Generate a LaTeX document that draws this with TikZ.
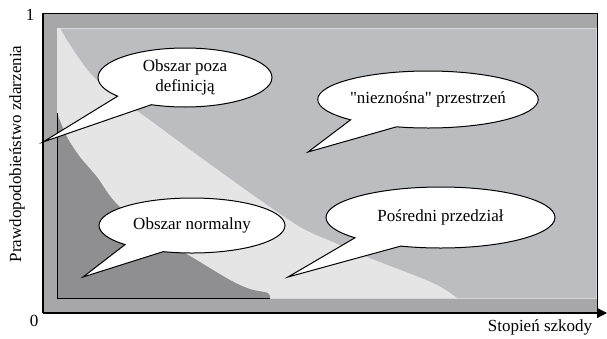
\documentclass[tikz,border=0pt]{standalone}
\usepackage{fontspec}
\setmainfont{Liberation Serif}
\newfontfamily\plainfont{Liberation Serif}
\usetikzlibrary{arrows.meta,shapes.callouts}

\definecolor{framegray}{RGB}{167,167,170}
\definecolor{innergray}{RGB}{188,189,193}
\definecolor{innerline}{RGB}{214,214,216}
\definecolor{lightband}{RGB}{229,229,229}
\definecolor{darkarea}{RGB}{143,143,146}

\begin{document}
\begin{tikzpicture}[
    x=1pt, y=-1pt,
    font=\fontsize{17}{20}\selectfont,
    bubble/.style={ellipse callout, draw=black, line width=1pt, fill=white, inner sep=0pt, align=center, callout pointer arc=28},
    axis/.style={line width=1.2pt, draw=black},
    border/.style={line width=1pt, draw=black},
    axislabel/.style={inner sep=0pt},
]
\useasboundingbox (0,0) rectangle (607,338);

% === BACKGROUND AREAS ===
\filldraw[fill=framegray, border] (43,313) -- (43,13) -- (597,13) -- (597,313);
\filldraw[fill=innergray, draw=innerline, line width=0.8pt] (57,28) rectangle (596.5,298);

% light band
\fill[lightband] (57,28) -- plot[smooth] coordinates {(60,28) (70,45) (90,73) (115,96) (140,113) (170,135) (200,157) (250,193) (300,227) (335,243) (367,257) (433,283) (457,298)} -- (57,298) -- cycle;

% normal area
\fill[darkarea] plot[smooth] coordinates {(57,113) (67,137) (80,157) (97,177) (115,202) (150,233) (190,256) (230,280) (250,289) (268,293) (270,298)} -- (57,298) -- cycle;
\draw[border] (57,113) -- (57,298) -- (270,298);

% === AXES ===
\draw[axis] (43,313) -- (43,13);
\draw[axis, -{Triangle[length=10pt, width=10pt]}] (43,313) -- (607,313);

\node[axislabel] (one) at (30,15) {1};
\node[axislabel] (zero) at (34,321) {0};
\node[axislabel, rotate=90] (ylabel) at (17,154) {Prawdopodobieństwo zdarzenia};
\node[axislabel] (xlabel) at (540,327) {Stopień szkody};

% === BUBBLES ===
\node[bubble, minimum width=174pt, minimum height=59pt, callout absolute pointer={(43,142)}] (outside) at (185,77.5) {Obszar poza\\definicją};
\node[bubble, minimum width=204pt, minimum height=57pt, callout absolute pointer={(308,152)}] (unbearable) at (428,99.5) {{\plainfont"}nieznośna{\plainfont"} przestrzeń};
\node[bubble, minimum width=186pt, minimum height=55pt, callout absolute pointer={(83,277)}] (normal) at (192,225.5) {Obszar normalny};
\node[bubble, minimum width=229pt, minimum height=61pt, callout absolute pointer={(288,277)}] (middle) at (440.5,217.5) {Pośredni przedział};

\end{tikzpicture}
\end{document}
